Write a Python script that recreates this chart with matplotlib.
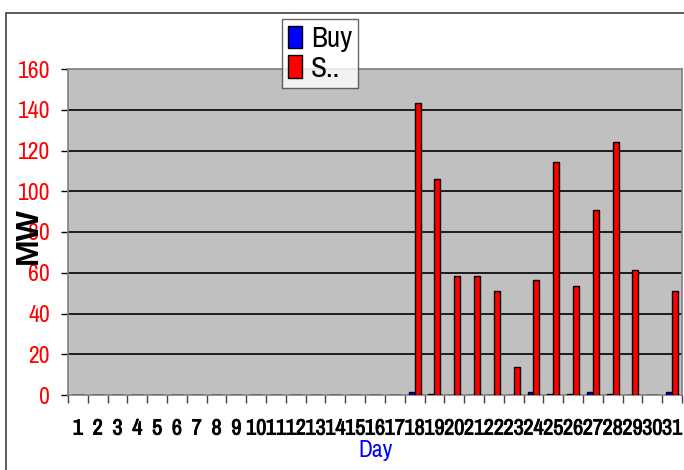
import numpy as np
import matplotlib
matplotlib.use('Agg')
import matplotlib.pyplot as plt
import matplotlib.patheffects as pe
from matplotlib.patches import Rectangle

days = list(range(1, 32))
day_labels = [str(d) for d in days]

# MW per day
buy = [0, 0, 0, 0, 0, 0, 0, 0, 0, 0, 0, 0, 0, 0, 0, 0, 0,
       1.3, 0.6, 0, 0, 0, 0, 1.3, 0.3, 0.6, 1.3, 0.4, 0, 0, 1.3]
sell = [0, 0, 0, 0, 0, 0, 0, 0, 0, 0, 0, 0, 0, 0, 0, 0, 0,
        143.5, 106, 58.5, 58.5, 51, 13.6, 56.6, 114.5, 53.5, 90.7, 124, 61.5, 0, 51]

yticks = [0, 20, 40, 60, 80, 100, 120, 140, 160]

narrow = ['Archivo Narrow', 'DejaVu Sans']

fig = plt.figure(figsize=(6.84, 4.70), dpi=100)
ax = fig.add_axes([68 / 684, 75 / 470, 614 / 684, 326 / 470])

# outer chart frame
fig.patches.append(Rectangle((6 / 684, -0.1), 1.1, (470 - 13) / 470 + 0.1,
                             transform=fig.transFigure, fill=False,
                             edgecolor='#404040', linewidth=1.2, zorder=0))

x = np.array(days)
w = 0.3
ax.set_facecolor('#c0c0c0')
ax.bar(x - w / 2, buy, width=w, color='#0000ff', edgecolor='black', linewidth=1, label='Buy', zorder=3)
ax.bar(x + w / 2, sell, width=w, color='#ff0000', edgecolor='black', linewidth=1, label='S..', zorder=3)

ax.set_xlim(0.5, 31.5)
ax.set_ylim(0, 160)

for v in yticks[1:-1]:
    ax.axhline(v, color='black', linewidth=1.2, zorder=1)

for s in ax.spines.values():
    s.set_color('#808080')
    s.set_linewidth(1.2)

ax.set_yticks(yticks)
ax.set_yticklabels([str(v) for v in yticks], color='red', fontsize=17, family=narrow)
ax.tick_params(axis='y', length=5, width=1, color='black', pad=8)

ax.set_xticks(x)
ax.set_xticklabels(day_labels, fontsize=16, family=narrow)
for t in ax.get_xticklabels():
    t.set_path_effects([pe.withStroke(linewidth=0.6, foreground='black')])
ax.set_xticks(np.arange(0.5, 32, 1), minor=True)
ax.tick_params(axis='x', which='major', length=0, pad=17)
ax.tick_params(axis='x', which='minor', length=6, width=1, color='#404040')

ax.set_xlabel('Day', color='blue', fontsize=17, family=narrow, labelpad=1)
fig.text(29 / 684, 1 - 236 / 470, 'MW', rotation=90, fontsize=23, fontweight='bold',
         ha='center', va='center', family=['Liberation Sans', 'DejaVu Sans'])

leg = ax.legend(loc='upper left', bbox_to_anchor=(282 / 684, 1 - 19 / 470), bbox_transform=fig.transFigure,
                prop={'family': narrow, 'size': 21}, frameon=True, fancybox=False,
                handlelength=0.5, handleheight=0.8, handletextpad=0.3, borderpad=0.2,
                labelspacing=0.1, borderaxespad=0)
leg.get_frame().set_edgecolor('#404040')
leg.get_frame().set_linewidth(1)

fig.savefig('out.png', dpi=100)
